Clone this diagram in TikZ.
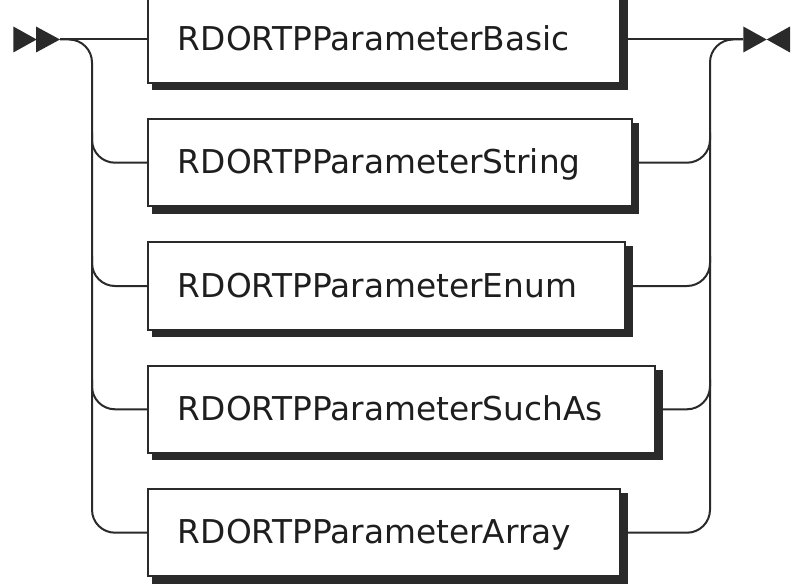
\documentclass[tikz,border=0pt]{standalone}
\usepackage{fontspec}
\setmainfont{DejaVu Sans}
\usetikzlibrary{backgrounds}
\definecolor{rrline}{HTML}{2A2A2A}
\definecolor{rrtext}{HTML}{1E1E1E}
\begin{document}
\begin{tikzpicture}[x=1bp,y=-1bp,
  rail/.style={draw=rrline, line width=2bp},
  rrbox/.style={draw=rrline, fill=white, line width=2bp, minimum height=87bp,
    inner xsep=0pt, inner ysep=0pt, text width=#1, align=left,
    text height=23bp, text depth=1bp, text=rrtext,
    font=\fontsize{32.8bp}{40bp}\selectfont},
  tip/.style={fill=rrline}]
\useasboundingbox (0,0) rectangle (796,584);
\coordinate (start) at (60,39.5);
\coordinate (end) at (743.3,39.5);
\coordinate (railL) at (92,0);
\coordinate (railR) at (710,0);
\node[rrbox=471.5bp] (b1) at (384.25,39.5) {\hspace*{29.5bp}RDORTPParameterBasic};
\node[rrbox=483.2bp] (b2) at (390.1,162.7) {\hspace*{29.5bp}RDORTPParameterString};
\node[rrbox=476.8bp] (b3) at (386.9,286) {\hspace*{29.5bp}RDORTPParameterEnum};
\node[rrbox=506.5bp] (b4) at (401.75,409.3) {\hspace*{29.5bp}RDORTPParameterSuchAs};
\node[rrbox=471.5bp] (b5) at (384.25,532.7) {\hspace*{29.5bp}RDORTPParameterArray};
\begin{scope}[on background layer]
\foreach \i in {1,...,5}
  \fill[rrline] ([shift={(5,5)}]b\i.north west) rectangle ([shift={(6.5,6.5)}]b\i.south east);
\end{scope}
% start / end markers
\fill[tip] (13.3,26.5) -- (36.7,39.5) -- (13.3,52.5) -- cycle;
\fill[tip] (36,26.5) -- (60,39.5) -- (36,52.5) -- cycle;
\fill[tip] (743.3,26.5) -- (766.7,39.5) -- (743.3,52.5) -- cycle;
\fill[tip] (790,26.5) -- (766.7,39.5) -- (790,52.5) -- cycle;
% main line
\draw[rail] (start) -- (b1.west);
\draw[rail] (b1.east) -- (end);
% left rail
\draw[rail, rounded corners=23bp] (start) -- (railL |- start) -- (railL |- b5.west) -- (b5.west);
\foreach \i in {2,3,4}
  \draw[rail, rounded corners=23bp] ([yshift=30bp]railL |- b\i.west) -- (railL |- b\i.west) -- (b\i.west);
% right rail
\draw[rail, rounded corners=23bp] (b5.east) -- (railR |- b5.east) -- (railR |- end) -- (end);
\foreach \i in {2,3,4}
  \draw[rail, rounded corners=23bp] (b\i.east) -- (railR |- b\i.east) -- ([yshift=30bp]railR |- b\i.east);
\end{tikzpicture}
\end{document}
